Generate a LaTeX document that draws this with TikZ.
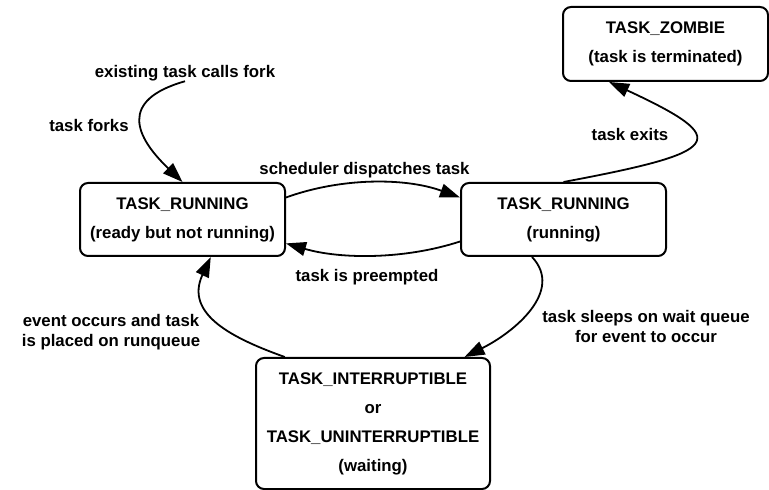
\documentclass[tikz,border=0pt]{standalone}
\usepackage{fontspec}
\setmainfont{Liberation Sans}
\usetikzlibrary{arrows.meta}
\tikzset{font=\fontsize{8.4}{14.5}\selectfont\bfseries}
\tikzset{state/.style={draw,rounded corners=4pt,line width=1pt,align=center,inner sep=0pt}}
\tikzset{lbl/.style={inner sep=0pt,align=center,font=\fontsize{8.4}{10}\selectfont\bfseries}}
\tikzset{trans/.style={-{Triangle[length=10pt,width=7pt]},line width=0.9pt}}

\begin{document}
\begin{tikzpicture}[x=0.5pt,y=-0.5pt]
  \useasboundingbox (0,0) rectangle (769,490);

  % states
  \node[state,minimum width=102.5pt,minimum height=36.5pt] (ready) at (182.5,219.5)
       {TASK\_RUNNING\\(ready but not running)};
  \node[state,minimum width=102.5pt,minimum height=36.5pt] (running) at (563.5,219.5)
       {TASK\_RUNNING\\(running)};
  \node[state,minimum width=102.5pt,minimum height=37pt] (zombie) at (665.5,44)
       {TASK\_ZOMBIE\\(task is terminated)};
  \node[state,minimum width=117pt,minimum height=65.5pt] (waiting) at (373,423.5)
       {TASK\_INTERRUPTIBLE\\or\\TASK\_UNINTERRUPTIBLE\\(waiting)};

  % labels
  \node[lbl] (forkcall) at (185,73) {existing task calls fork};
  \node[lbl] (forks) at (89,126) {task forks};
  \node[lbl] (dispatch) at (364.5,170) {scheduler dispatches task};
  \node[lbl] (preempt) at (367,277) {task is preempted};
  \node[lbl] (exits) at (630,135) {task exits};
  \node[lbl] (wakeup) at (111,332) {event occurs and task\\is placed on runqueue};
  \node[lbl] (sleeps) at (646,326.5) {task sleeps on wait queue\\for event to occur};

  % transitions
  \draw[trans] (forkcall.south) .. controls +(-67,19) and +(-47,-45) .. (ready.north);
  \draw[trans] (ready.12) .. controls +(55,-20) and +(-55,-20) .. (running.168);
  \draw[trans] (running.192) .. controls +(-55,18) and +(55,16) .. (ready.-13);
  \draw[trans] (running.north) .. controls +(160,-30) and +(125,58) .. (zombie.214);
  \draw[trans] (running.230) .. controls +(32,34) and +(50,-25) .. (waiting.36);
  \draw[trans] (waiting.143) .. controls +(-50,-18) and +(-27,58) .. (ready.-53);
\end{tikzpicture}
\end{document}
